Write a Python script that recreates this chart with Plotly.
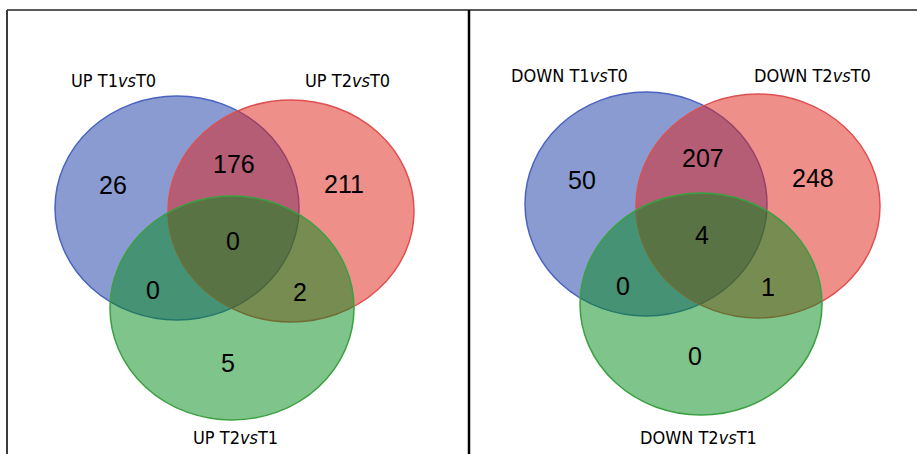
import plotly.graph_objects as go

# Set names for the two Venn diagrams
up_sets = ["UP T1<i>vs</i>T0", "UP T2<i>vs</i>T0", "UP T2<i>vs</i>T1"]
down_sets = ["DOWN T1<i>vs</i>T0", "DOWN T2<i>vs</i>T0", "DOWN T2<i>vs</i>T1"]

# Region counts, order: A only, A&B, B only, A&B&C, A&C, B&C, C only
up_counts = [26, 176, 211, 0, 0, 2, 5]
down_counts = [50, 207, 248, 4, 0, 1, 0]

W, H = 917, 454

# Circle geometry (pixel space): centre x, centre y, radius x, radius y
panels = [
    dict(
        sets=up_sets, counts=up_counts,
        circles=[(177, 208, 122, 112), (291, 211, 123, 111), (232, 308, 122, 112)],
        set_pos=[(113, 80), (347, 80), (235, 437)],
        count_pos=[(113, 185), (234, 164), (344, 184), (233, 241),
                   (153, 290), (300, 292), (228, 363)],
    ),
    dict(
        sets=down_sets, counts=down_counts,
        circles=[(646, 204, 121, 112), (758, 206, 122, 112), (701, 304, 121, 111)],
        set_pos=[(569, 75), (812, 75), (698, 437)],
        count_pos=[(582, 180), (703, 158), (813, 178), (702, 235),
                   (623, 286), (768, 287), (695, 356)],
    ),
]

fills = ["rgba(21,55,165,0.5)", "rgba(221,31,21,0.5)", "rgba(0,137,21,0.5)"]
edges = ["rgb(74,99,192)", "rgb(222,80,80)", "rgb(58,160,64)"]

label_font = dict(family="Liberation Sans Narrow, DejaVu Sans Condensed, Arial Narrow, sans-serif",
                  size=18, color="black")
count_font = dict(family="Liberation Sans, Arial, sans-serif", size=25, color="black")

shapes = []
annotations = []
for p in panels:
    for (cx, cy, rx, ry), fc, ec in zip(p["circles"], fills, edges):
        shapes.append(dict(type="circle", xref="x", yref="y",
                           x0=cx - rx, x1=cx + rx, y0=cy - ry, y1=cy + ry,
                           fillcolor=fc, line=dict(color=ec, width=1.5), layer="above"))
    for name, (x, y) in zip(p["sets"], p["set_pos"]):
        annotations.append(dict(x=x, y=y, xref="x", yref="y", text=name,
                                showarrow=False, font=label_font))
    for n, (x, y) in zip(p["counts"], p["count_pos"]):
        annotations.append(dict(x=x, y=y, xref="x", yref="y", text=str(n),
                                showarrow=False, font=count_font))

# Table-style frame around the panels
frame = [
    (7, 10, W, 10, "rgb(90,90,90)", 2),
    (7, 10, 7, H, "rgb(60,60,60)", 2),
    (469, 10, 469, H, "black", 2.5),
]
for x0, y0, x1, y1, c, w in frame:
    shapes.append(dict(type="line", xref="x", yref="y", x0=x0, y0=y0, x1=x1, y1=y1,
                       line=dict(color=c, width=w), layer="above"))

fig = go.Figure()
fig.update_layout(
    width=W, height=H,
    margin=dict(l=0, r=0, t=0, b=0),
    paper_bgcolor="white", plot_bgcolor="white",
    xaxis=dict(range=[0, W], visible=False, fixedrange=True),
    yaxis=dict(range=[H, 0], visible=False, fixedrange=True),
    shapes=shapes, annotations=annotations,
    showlegend=False,
)
fig.write_html("out.html")
